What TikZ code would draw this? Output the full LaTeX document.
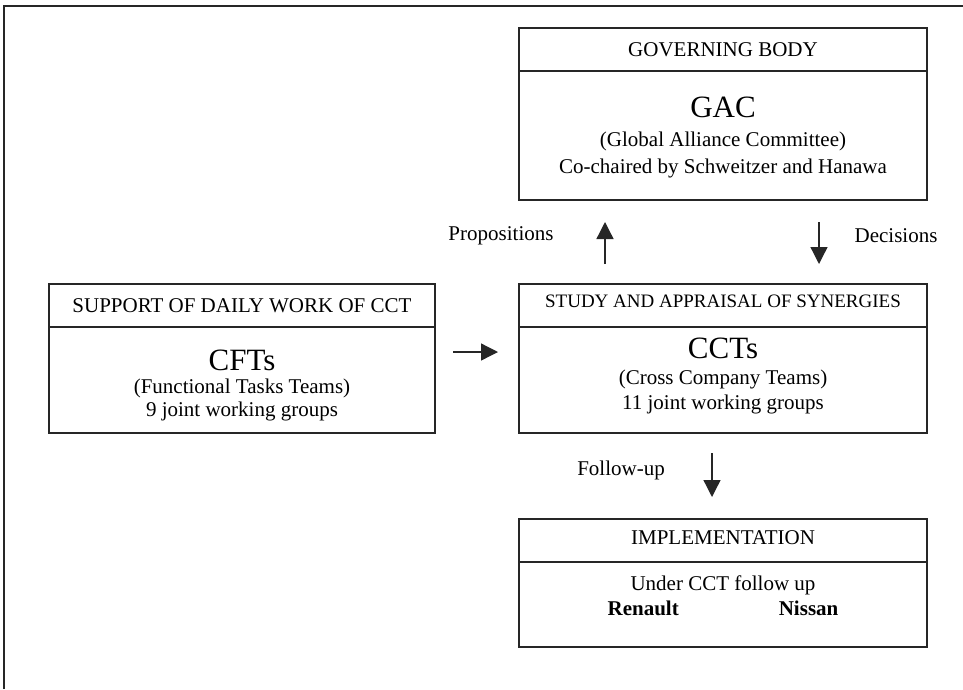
\documentclass[tikz,border=0pt]{standalone}
\usepackage{fontspec}
\setmainfont{Liberation Serif}
\usetikzlibrary{positioning,arrows.meta}

\tikzset{
  box/.style={draw=black!85, line width=1.6pt, inner sep=0pt, outer sep=0pt, minimum width=408pt},
  headbox/.style={box, minimum height=43pt, font=\fontsize{21}{25}\selectfont},
  inbox/.style={anchor=north, align=center, inner sep=0pt, font=\fontsize{21}{25}\selectfont},
  tag/.style={inner sep=0pt, font=\fontsize{21}{25}\selectfont},
  flow/.style={draw=black!85, line width=1.3pt, -{Triangle[length=17pt,width=17pt]}}
}
\newcommand{\bigname}[1]{{\fontsize{31}{35}\selectfont #1}}

\begin{document}
\begin{tikzpicture}[x=1pt,y=-1pt]
    \useasboundingbox (0,0) rectangle (963,689);
    \draw[draw=black!85, line width=1.6pt] (4,689) -- (4,6) -- (963,6);

    \node[headbox, anchor=north west] (gacHead) at (519,28) {GOVERNING BODY};
    \node[box, minimum height=129pt, below=0pt of gacHead] (gacBody) {};
    \node[inbox, below=26pt of gacHead] (gacText) {\bigname{GAC}\\[4pt] (Global Alliance Committee)\\[2pt] Co-chaired by Schweitzer and Hanawa};

    \node[headbox, anchor=north west, font=\fontsize{19}{23}\selectfont, text depth=8pt] (cctHead) at (519,284) {STUDY AND APPRAISAL OF SYNERGIES};
    \node[box, minimum height=106pt, below=0pt of cctHead] (cctBody) {};
    \node[inbox, below=11pt of cctHead] (cctText) {\bigname{CCTs}\\[1pt] (Cross Company Teams)\\ 11 joint working groups};

    \node[headbox, anchor=north west, minimum width=386pt] (cftHead) at (49,284) {SUPPORT OF DAILY WORK OF CCT};
    \node[box, minimum width=386pt, minimum height=106pt, below=0pt of cftHead] (cftBody) {};
    \node[inbox, below=23pt of cftHead] (cftText) {\bigname{CFTs}\\[-2pt] (Functional Tasks Teams)\\[-2pt] 9 joint working groups};

    \node[headbox, anchor=north west, text depth=6pt] (implHead) at (519,519) {IMPLEMENTATION};
    \node[box, minimum height=85pt, below=0pt of implHead] (implBody) {};
    \node[inbox, below=14pt of implHead] (implText) {Under CCT follow up\\ \textbf{Renault}\hspace{100pt}\textbf{Nissan}};

    \node[tag] (propTag) at (501,236) {Propositions};
    \node[tag] (decTag) at (896,236) {Decisions};
    \node[tag] (followTag) at (621,470) {Follow-up};

    \coordinate (propFoot) at (605,264);
    \coordinate (propTip) at (605,222);
    \coordinate (decFoot) at (819,222);
    \coordinate (decTip) at (819,264);
    \coordinate (followFoot) at (712,453);
    \coordinate (followTip) at (712,497);
    \coordinate (cftOut) at (453,352);
    \coordinate (cctIn) at (498,352);

    \draw[flow] (propFoot) -- (propTip);
    \draw[flow] (decFoot) -- (decTip);
    \draw[flow] (followFoot) -- (followTip);
    \draw[flow] (cftOut) -- (cctIn);
\end{tikzpicture}
\end{document}
